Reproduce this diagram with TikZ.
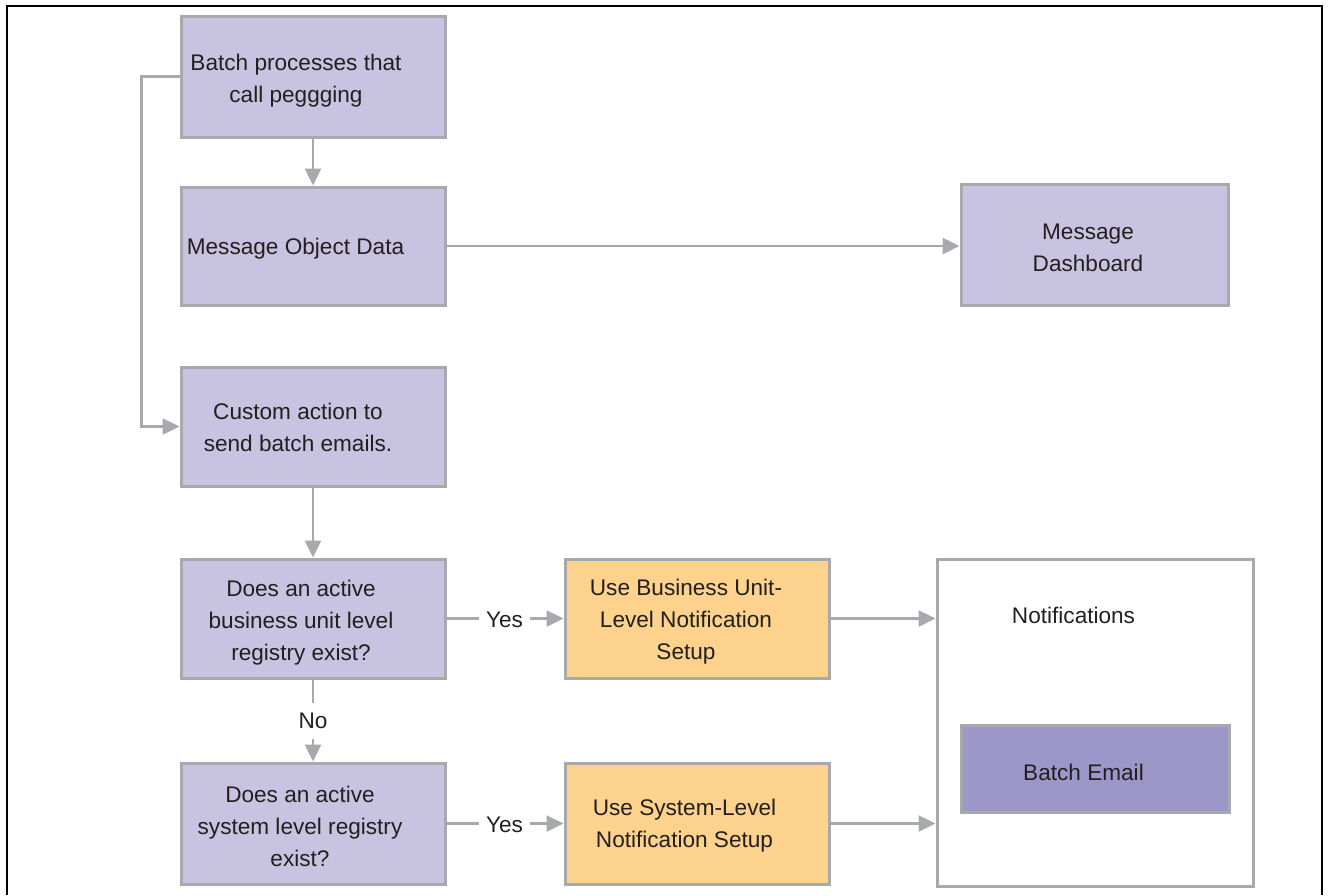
\documentclass[tikz,border=0pt]{standalone}
\usepackage{fontspec}
\setmainfont{Liberation Sans}
\usetikzlibrary{arrows.meta}

\definecolor{edgegrey}{HTML}{A7A9AC}
\definecolor{lavender}{HTML}{C7C3E0}
\definecolor{peach}{HTML}{FCD28C}
\definecolor{violet}{HTML}{9C97C8}
\definecolor{ink}{HTML}{231F20}

\tikzset{
  box/.style={draw=edgegrey, line width=3pt, inner sep=0pt},
  procbox/.style={box, fill=lavender},
  setupbox/.style={box, fill=peach},
  txt/.style={text=ink, align=center, inner sep=0pt,
              font=\fontsize{22.6}{32}\selectfont},
  lbl/.style={txt, minimum width=51pt, minimum height=36pt},
  link/.style={draw=edgegrey, line width=2.5pt},
  arr/.style={link, -{Triangle[length=17pt, width=16pt]}},
}

\begin{document}
\begin{tikzpicture}[x=1pt, y=-1pt]
  \useasboundingbox (0,0) rectangle (1329,895);

  % page frame, open at the bottom
  \draw[line width=2.5pt, black] (7,895) -- (7,6) -- (1322,6) -- (1322,895);

  % process boxes
  \node[procbox, minimum width=264pt, minimum height=121pt] (b1) at (313,76.5) {};
  \node[procbox, minimum width=264pt, minimum height=118pt] (b2) at (313,246) {};
  \node[procbox, minimum width=267pt, minimum height=121pt] (dash) at (1094.5,244.5) {};
  \node[procbox, minimum width=264pt, minimum height=119pt] (b3) at (313,426.5) {};
  \node[procbox, minimum width=264pt, minimum height=119pt] (d1) at (313,618.5) {};
  \node[setupbox, minimum width=264pt, minimum height=119pt] (o1) at (697,618.5) {};
  \node[procbox, minimum width=264pt, minimum height=121pt] (d2) at (313,823.5) {};
  \node[setupbox, minimum width=264pt, minimum height=121pt] (o2) at (697,823.5) {};
  \node[box, fill=white, minimum width=316pt, minimum height=327pt] (notif) at (1095,722.5) {};
  \node[box, fill=violet, minimum width=268pt, minimum height=87pt] (be) at (1095,768.5) {};

  % box texts
  \node[txt] (t1) at (296,81) {Batch processes that\\call peggging};
  \node[txt] (t2) at (295.5,249) {Message Object Data};
  \node[txt] (tdash) at (1088,248) {Message\\Dashboard};
  \node[txt] (t3) at (298,427.5) {Custom action to\\send batch emails.};
  \node[txt] (td1) at (301,622.5) {Does an active\\business unit level\\registry exist?};
  \node[txt] (to1) at (686,621.5) {Use Business Unit-\\Level Notification\\Setup};
  \node[txt] (td2) at (300,826.5) {Does an active\\system level registry\\exist?};
  \node[txt] (to2) at (684.5,825.5) {Use System-Level\\Notification Setup};
  \node[txt] (tnotif) at (1073.5,615.5) {Notifications};
  \node[txt] (tbe) at (1083.5,772) {Batch Email};

  % branch labels
  \node[lbl] (yes1) at (504.5,620) {Yes};
  \node[lbl] (yes2) at (504.5,825) {Yes};
  \node[lbl] (no) at (313,721) {No};

  % connectors
  \draw[arr] (b1) -- (b2);
  \draw[arr] (b2.east) -- (b2.east -| dash.west);
  \draw[arr] (b1.west) -- ++(-38,0) |- (b3.west);
  \draw[arr] (b3) -- (d1);
  \draw[link] (d1.east) -- (d1.east -| yes1.west);
  \draw[arr] (d1.east -| yes1.east) -- (o1.west);
  \draw[link] (d2.east) -- (d2.east -| yes2.west);
  \draw[arr] (d2.east -| yes2.east) -- (o2.west);
  \draw[link] (d1.south) -- (d1.south |- no.north);
  \draw[arr] (d1.south |- no.south) -- (d2.north);
  \draw[arr] (o1.east) -- (o1.east -| notif.west);
  \draw[arr] (o2.east) -- (o2.east -| notif.west);
\end{tikzpicture}
\end{document}
